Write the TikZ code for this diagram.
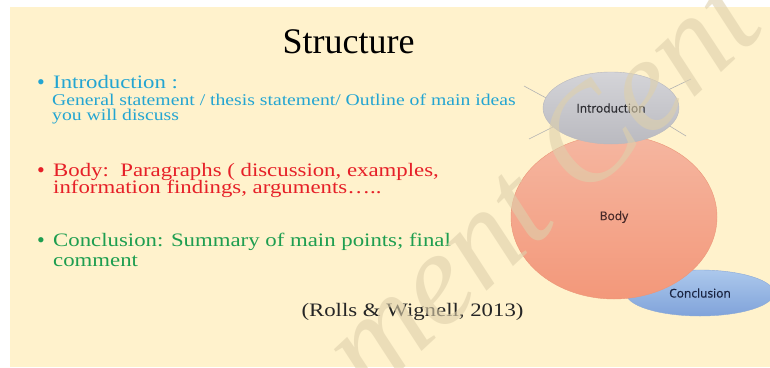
\documentclass[tikz,border=0pt]{standalone}
\usepackage{fontspec}
\setmainfont{Liberation Serif}
\newfontfamily\widefont[FakeStretch=1.2]{Liberation Serif}
\newfontfamily\labfont[FakeBold=0.6]{Open Sans}
\usetikzlibrary{shapes.geometric}
\definecolor{cream}{RGB}{255,242,204}
\definecolor{introblue}{RGB}{35,165,210}
\definecolor{bodyred}{RGB}{230,32,40}
\definecolor{concgreen}{RGB}{30,158,80}
\definecolor{wmtan}{RGB}{222,208,172}
\tikzset{
  bullettext/.style={anchor=base west, inner sep=0pt, font=\widefont\fontsize{19}{19}\selectfont},
  subtext/.style={anchor=base west, inner sep=0pt, font=\widefont\fontsize{16.4}{16.4}\selectfont},
  dot/.style={anchor=base, inner sep=0pt, font=\fontsize{22}{22}\selectfont},
  blob/.style={ellipse, inner sep=0pt, font=\labfont\fontsize{12}{12}\selectfont},
  spark/.style={draw=black!30, line width=0.6pt}
}
\begin{document}
\begin{tikzpicture}[x=1pt,y=-1pt]
\useasboundingbox (0,0) rectangle (770,367);
\fill[white] (0,0) rectangle (770,367);
\fill[cream] (10,7) rectangle (770,367);
\begin{scope}
\clip (0,0) rectangle (770,367);
% title
\node[anchor=base, inner sep=0pt, font=\fontsize{36}{36}\selectfont] (title) at (348.5,53) {Structure};
% introduction
\node[dot, text=introblue] (b1) at (41,89) {•};
\node[bullettext, text=introblue] (intro1) at (53,88) {Introduction :};
\node[subtext, text=introblue] (intro2) at (52,105) {General statement / thesis statement/ Outline of main ideas};
\node[subtext, text=introblue] (intro3) at (52,120) {you will discuss};
% body
\node[dot, text=bodyred] (b2) at (41,177) {•};
\node[bullettext, text=bodyred] (body1) at (53,176) {Body:\ \ Paragraphs ( discussion, examples,};
\node[bullettext, text=bodyred] (body2) at (53,193) {information findings, arguments…..};
% conclusion
\node[dot, text=concgreen] (b3) at (41,247) {•};
\node[bullettext, text=concgreen] (conc1) at (53,246) {Conclusion: Summary of main points; final};
\node[bullettext, text=concgreen] (conc2) at (53,266) {comment};
% citation
\node[bullettext, anchor=base, text=black!85] (cite) at (412.5,316) {(Rolls \& Wignell, 2013)};
% diagram
\node[blob, minimum width=148pt, minimum height=46pt, draw={rgb,255:red,140;green,170;blue,215},
  top color={rgb,255:red,172;green,200;blue,236}, bottom color={rgb,255:red,128;green,163;blue,218},
  text={rgb,255:red,25;green,35;blue,65}] (concE) at (700,293) {Conclusion};
\node[blob, minimum width=206pt, minimum height=164pt, draw={rgb,255:red,236;green,150;blue,120},
  top color={rgb,255:red,245;green,182;blue,160}, bottom color={rgb,255:red,243;green,152;blue,122},
  text={rgb,255:red,70;green,40;blue,40}] (bodyE) at (614,217) {Body};
\coordinate (s1a) at (524,86); \coordinate (s1b) at (548,99);
\coordinate (s2a) at (529,139); \coordinate (s2b) at (553,127);
\coordinate (s3a) at (691,79); \coordinate (s3b) at (668,90);
\coordinate (s4a) at (686,136); \coordinate (s4b) at (668,125);
\draw[spark] (s1a) -- (s1b);
\draw[spark] (s2a) -- (s2b);
\draw[spark] (s3a) -- (s3b);
\draw[spark] (s4a) -- (s4b);
\node[blob, minimum width=136pt, minimum height=72pt, draw={rgb,255:red,185;green,185;blue,190},
  top color={rgb,255:red,212;green,212;blue,216}, bottom color={rgb,255:red,186;green,186;blue,192},
  text={rgb,255:red,45;green,45;blue,50}] (introE) at (611,108) {Introduction};
% watermark
\node[anchor=base west, inner sep=0pt, rotate=43, text=wmtan, text opacity=0.6,
  font=\fontsize{133}{133}\selectfont\itshape] (wm) at (370,400) {ment Cent};
\end{scope}
\end{tikzpicture}
\end{document}
